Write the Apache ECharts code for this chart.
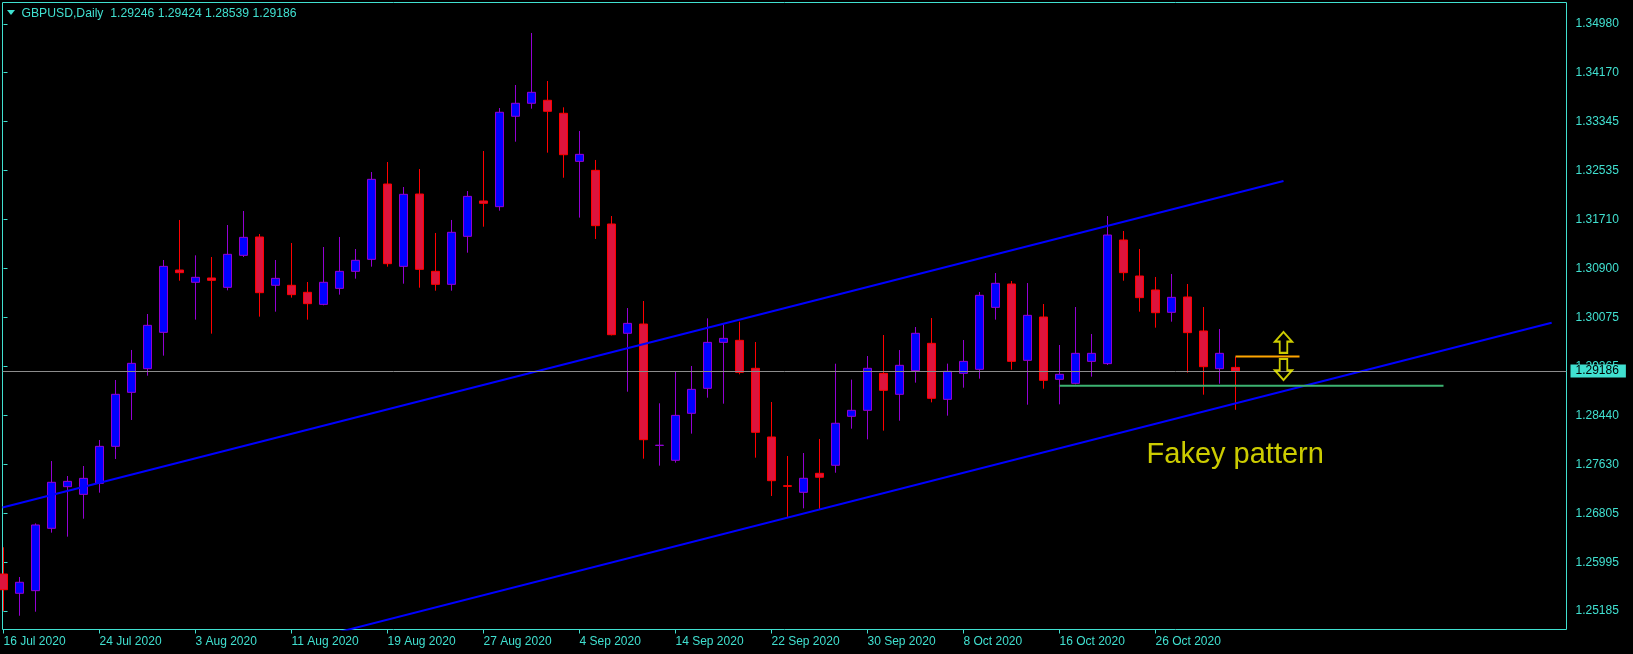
<!DOCTYPE html>
<html><head><meta charset="utf-8">
<style>html,body{margin:0;padding:0;background:#000;}#c{width:1633px;height:654px;}</style>
<script src="https://cdn.jsdelivr.net/npm/echarts@6/dist/echarts.min.js"></script>
</head><body><div id="c"></div>
<script>
const symbolName = 'GBPUSD,Daily';
const categories = ['16 Jul 2020','17 Jul 2020','20 Jul 2020','21 Jul 2020','22 Jul 2020','23 Jul 2020','24 Jul 2020','27 Jul 2020','28 Jul 2020','29 Jul 2020','30 Jul 2020','31 Jul 2020',
'3 Aug 2020','4 Aug 2020','5 Aug 2020','6 Aug 2020','7 Aug 2020','10 Aug 2020','11 Aug 2020','12 Aug 2020','13 Aug 2020','14 Aug 2020','17 Aug 2020','18 Aug 2020','19 Aug 2020','20 Aug 2020','21 Aug 2020','24 Aug 2020','25 Aug 2020','26 Aug 2020','27 Aug 2020','28 Aug 2020','31 Aug 2020',
'1 Sep 2020','2 Sep 2020','3 Sep 2020','4 Sep 2020','7 Sep 2020','8 Sep 2020','9 Sep 2020','10 Sep 2020','11 Sep 2020','14 Sep 2020','15 Sep 2020','16 Sep 2020','17 Sep 2020','18 Sep 2020','21 Sep 2020','22 Sep 2020','23 Sep 2020','24 Sep 2020','25 Sep 2020','28 Sep 2020','29 Sep 2020','30 Sep 2020',
'1 Oct 2020','2 Oct 2020','5 Oct 2020','6 Oct 2020','7 Oct 2020','8 Oct 2020','9 Oct 2020','12 Oct 2020','13 Oct 2020','14 Oct 2020','15 Oct 2020','16 Oct 2020','19 Oct 2020','20 Oct 2020','21 Oct 2020','22 Oct 2020','23 Oct 2020','26 Oct 2020','27 Oct 2020','28 Oct 2020','29 Oct 2020','30 Oct 2020','2 Nov 2020'];
const openP = [1.25799,1.25477,1.25521,1.26561,1.27256,1.27128,1.27312,1.27929,1.28830,1.29225,1.29831,1.30871,
1.30666,1.30738,1.30582,1.31116,1.31422,1.30616,1.30616,1.30499,1.30298,1.30565,1.30849,1.31049,1.32306,1.30932,1.32139,1.30849,1.30632,1.31433,1.32023,1.31928,1.33436,
1.33653,1.33703,1.33486,1.32684,1.32534,1.31639,1.29815,1.29970,1.27944,1.27696,1.28480,1.28897,1.29664,1.29698,1.29231,1.28085,1.27272,1.27162,1.27479,1.27613,1.28430,1.28530,
1.29147,1.28797,1.29192,1.29648,1.28713,1.29147,1.29214,1.30248,1.30638,1.29364,1.30087,1.29047,1.28980,1.29347,1.29309,1.31372,1.30771,1.30538,1.30165,1.30421,1.29854,1.29225,1.29246];
const highP = [1.26245,1.25749,1.26644,1.27684,1.27434,1.27601,1.28035,1.29036,1.29537,1.30137,1.31038,1.31706,
1.31116,1.31088,1.31622,1.31856,1.31472,1.31038,1.31322,1.30671,1.31255,1.31422,1.31222,1.32506,1.32673,1.32256,1.32556,1.31489,1.31706,1.32189,1.32857,1.33574,1.33958,
1.34826,1.34025,1.33586,1.33191,1.32707,1.31772,1.30237,1.30354,1.28647,1.29186,1.29270,1.30065,1.29965,1.30009,1.29670,1.28669,1.27768,1.27818,1.28052,1.29308,1.29042,1.29436,
1.29787,1.29536,1.29920,1.30070,1.29309,1.29703,1.30504,1.30821,1.30688,1.30654,1.30304,1.29620,1.30254,1.29804,1.31772,1.31522,1.31222,1.30755,1.30805,1.30638,1.30254,1.29887,1.29424];
const lowP = [1.25182,1.25103,1.25170,1.26489,1.26422,1.26722,1.27156,1.27718,1.28369,1.29108,1.29442,1.30693,
1.30043,1.29809,1.30532,1.31088,1.30093,1.30176,1.30410,1.30043,1.30282,1.30460,1.30727,1.30927,1.30927,1.30643,1.30576,1.30526,1.30526,1.31160,1.31594,1.31861,1.33012,
1.33563,1.32829,1.32411,1.31745,1.31389,1.29780,1.28841,1.27723,1.27607,1.27657,1.28141,1.28741,1.28641,1.29131,1.27740,1.27101,1.26734,1.26895,1.26879,1.27489,1.28224,1.28046,
1.28191,1.28357,1.28992,1.28663,1.28441,1.28908,1.29058,1.30043,1.29208,1.28624,1.28891,1.28630,1.28964,1.29092,1.29286,1.30693,1.30176,1.29909,1.30009,1.29158,1.28791,1.28975,1.28539];
const closeP = [1.25537,1.25661,1.26617,1.27329,1.27345,1.27395,1.27929,1.28797,1.29314,1.29948,1.30932,1.30827,
1.30749,1.30699,1.31133,1.31416,1.30493,1.30732,1.30460,1.30310,1.30666,1.30849,1.31033,1.32384,1.30977,1.32134,1.30882,1.30632,1.31500,1.32100,1.31984,1.33503,1.33653,
1.33836,1.33519,1.32795,1.32801,1.31611,1.29792,1.29981,1.28040,1.27948,1.28446,1.28880,1.29664,1.29731,1.29164,1.28163,1.27356,1.27262,1.27396,1.27413,1.28314,1.28530,1.29231,
1.28864,1.29281,1.29815,1.28730,1.29181,1.29347,1.30449,1.30649,1.29347,1.30115,1.29030,1.29131,1.29481,1.29481,1.31455,1.30827,1.30410,1.30159,1.30415,1.29826,1.29258,1.29481,1.29186];
const yTickLabels = ['1.25185','1.25995','1.26805','1.27630','1.28440','1.29265','1.30075','1.30900','1.31710','1.32535','1.33345','1.34170','1.34980'];
const xTickIndex = [0,6,12,18,24,30,36,42,48,54,60,66,72];
const bidPrice = 1.29186;
const upperChannel = [[-0.0625, 1.26909], [80, 1.32356]];
const lowerChannel = [[20, 1.24765], [96.76, 1.29990]];
const greenLevel = [[66, 1.28939], [90, 1.28939]];
const orangeLevel = [[77, 1.29430], [81, 1.29430]];
const arrowUp = [80, 1.29662];
const arrowDown = [80, 1.29211];
const notePoint = [71.41, 1.27781];
const noteText = 'Fakey pattern';

const TEAL = '#40e0d0';
const FONT = 'Liberation Sans';
const chart = echarts.init(document.getElementById('c'));
const candles = categories.map((d, i) => [i, openP[i], closeP[i], lowP[i], highP[i]]);
const last = categories.length - 1;
const header = symbolName + '  ' + [openP[last], highP[last], lowP[last], closeP[last]].map(v => v.toFixed(5)).join(' ');
const lineSeries = (data, color, width) => ({
  type: 'line', data: data, symbol: 'none', silent: true, z: 4,
  lineStyle: { color: color, width: width }, emphasis: { disabled: true }
});
chart.setOption({
  backgroundColor: '#000',
  animation: false,
  grid: { left: 2.5, right: 66.5, top: 2.5, bottom: 24.5, show: true, borderColor: TEAL, borderWidth: 1, backgroundColor: 'rgba(0,0,0,0)' },
  xAxis: {
    type: 'value', min: -0.0625, max: 97.6875,
    axisLine: { show: false }, splitLine: { show: false },
    axisTick: { show: true, customValues: xTickIndex, length: 4, lineStyle: { color: TEAL } },
    axisLabel: { customValues: xTickIndex, formatter: v => categories[Math.round(v)], color: TEAL, fontFamily: FONT, fontSize: 12, align: 'left', margin: 6 }
  },
  yAxis: {
    type: 'value', position: 'right', min: 1.248731, max: 1.353346,
    axisLine: { show: false }, splitLine: { show: false },
    axisTick: { show: true, customValues: yTickLabels.map(Number), length: 4, lineStyle: { color: TEAL } },
    axisLabel: { customValues: yTickLabels.map(Number), formatter: v => v.toFixed(5), color: TEAL, fontFamily: FONT, fontSize: 12, margin: 9 }
  },
  graphic: [
    { type: 'polygon', shape: { points: [[7, 10], [15, 10], [11, 15]] }, style: { fill: TEAL } },
    { type: 'text', x: 21.5, y: 13.5, style: { text: header, fill: TEAL, font: '12.2px "Liberation Sans"', verticalAlign: 'middle' } }
  ],
  series: [
    {
      type: 'line', data: [], z: 1, silent: true,
      markLine: {
        silent: true, symbol: ['none', 'none'], animation: false, precision: 5,
        lineStyle: { color: '#8c8c8c', width: 1, type: 'solid' },
        label: { show: true, position: 'end', formatter: bidPrice.toFixed(5), color: '#000', backgroundColor: TEAL, padding: [1, 7, 0, 5], fontSize: 12, lineHeight: 12, fontFamily: FONT, distance: 4 },
        emphasis: { disabled: true },
        data: [{ yAxis: bidPrice }]
      }
    },
    {
      type: 'candlestick', data: candles, encode: { x: 0, y: [1, 2, 3, 4] }, barWidth: 9, z: 2, silent: true,
      itemStyle: { color: '#0000ff', color0: '#dc143c', borderColor: '#9400d3', borderColor0: '#ff0000', borderWidth: 1 },
      emphasis: { disabled: true }
    },
    lineSeries(upperChannel, '#0000ff', 2),
    lineSeries(lowerChannel, '#0000ff', 2),
    lineSeries(greenLevel, '#3cb371', 2),
    lineSeries(orangeLevel, '#ffa500', 2),
    {
      type: 'scatter', z: 5, silent: true, symbolSize: [17, 21],
      itemStyle: { color: 'rgba(0,0,0,0)', borderColor: '#ffff00', borderWidth: 2 },
      emphasis: { disabled: true },
      data: [
        { value: arrowUp, symbol: 'path://M9,0 L18,10 L13,10 L13,22 L5,22 L5,10 L0,10 Z' },
        { value: arrowDown, symbol: 'path://M5,0 L13,0 L13,12 L18,12 L9,22 L0,12 L5,12 Z' }
      ]
    },
    {
      type: 'scatter', z: 5, silent: true, symbolSize: 1,
      itemStyle: { color: 'rgba(0,0,0,0)' },
      label: { show: true, position: 'right', distance: 0, formatter: noteText, color: '#ffff00', fontSize: 29, fontFamily: FONT },
      emphasis: { disabled: true },
      data: [notePoint]
    }
  ]
});
</script></body></html>
